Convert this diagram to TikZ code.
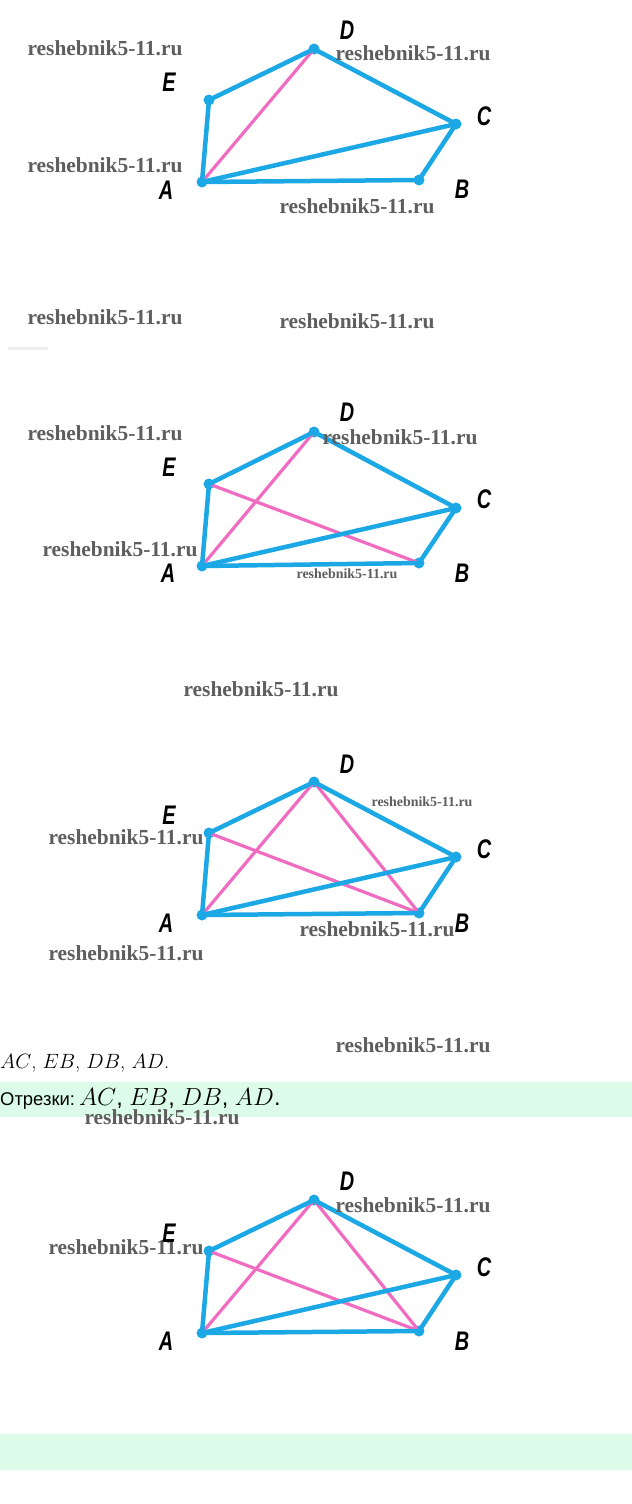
\documentclass[tikz,border=0pt]{standalone}
\usepackage{fontspec}
\newfontfamily\ptfont[FakeStretch=0.74]{Liberation Sans}
\newfontfamily\wmfont{Liberation Serif}
\newfontfamily\txtfont{Liberation Sans}
\definecolor{segblue}{HTML}{1BA8E4}
\definecolor{segpink}{HTML}{F06CC0}
\definecolor{bandgreen}{HTML}{DCFCE9}
\definecolor{wmgray}{HTML}{5E5E5E}
\begin{document}
\begin{tikzpicture}[line join=round,line cap=round,
  vertex/.style={circle, fill=segblue, inner sep=0pt, minimum size=11bp},
  side/.style={draw=segblue, line width=4.5bp},
  diag/.style={draw=segpink, line width=3.2bp},
  lbl/.style={inner sep=0pt, font=\fontsize{27}{27}\ptfont\bfseries\itshape},
  wm/.style={inner sep=0pt, text=wmgray, font=\fontsize{21.5}{21.5}\wmfont\bfseries},
  wmsmall/.style={wm, font=\fontsize{14}{14}\wmfont\bfseries},
  band/.style={fill=bandgreen, draw=none} ]
\useasboundingbox (0,0) rectangle (632bp,-1504bp);
\fill[white] (0,0) rectangle (632bp,-1504bp);
%% backgrounds
\path[band] (0bp,-1082bp) rectangle (632bp,-1117bp);
\path[band] (0bp,-1434bp) rectangle (632bp,-1470bp);
\fill[black!7] (8bp,-347bp) rectangle (48bp,-350bp);
%%
% Figure 1
  % Node: A B C D E
  \node (a1) [vertex] at (202bp,-182bp) {};
  \node (b1) [vertex] at (419bp,-180bp) {};
  \node (c1) [vertex] at (456bp,-124bp) {};
  \node (d1) [vertex] at (314bp,-49bp) {};
  \node (e1) [vertex] at (209bp,-100bp) {};
  % Edge: A -- D
  \draw [diag] (a1.center) -- (d1.center);
  % Edge: sides and AC
  \draw [side] (a1.center) -- (e1.center) -- (d1.center) -- (c1.center) -- (b1.center) -- (a1.center);
  \draw [side] (a1.center) -- (c1.center);
  \node (la1) [lbl] at (166bp,-190bp) {A};
  \node (lb1) [lbl] at (462bp,-189bp) {B};
  \node (lc1) [lbl] at (484bp,-116bp) {C};
  \node (ld1) [lbl] at (347bp,-30bp) {D};
  \node (le1) [lbl] at (169bp,-82bp) {E};
%
% Figure 2
  % Node: A B C D E
  \node (a2) [vertex] at (202bp,-566bp) {};
  \node (b2) [vertex] at (419bp,-563bp) {};
  \node (c2) [vertex] at (456bp,-508bp) {};
  \node (d2) [vertex] at (314bp,-432bp) {};
  \node (e2) [vertex] at (209bp,-484bp) {};
  % Edge: A -- D, E -- B
  \draw [diag] (a2.center) -- (d2.center);
  \draw [diag] (e2.center) -- (b2.center);
  % Edge: sides and AC
  \draw [side] (a2.center) -- (e2.center) -- (d2.center) -- (c2.center) -- (b2.center) -- (a2.center);
  \draw [side] (a2.center) -- (c2.center);
  \node (la2) [lbl] at (168bp,-573bp) {A};
  \node (lb2) [lbl] at (462bp,-573bp) {B};
  \node (lc2) [lbl] at (484bp,-499bp) {C};
  \node (ld2) [lbl] at (347bp,-412bp) {D};
  \node (le2) [lbl] at (169bp,-467bp) {E};
%
% Figure 3
  % Node: A B C D E
  \node (a3) [vertex] at (202bp,-915bp) {};
  \node (b3) [vertex] at (419bp,-913bp) {};
  \node (c3) [vertex] at (456bp,-857bp) {};
  \node (d3) [vertex] at (314bp,-782bp) {};
  \node (e3) [vertex] at (209bp,-833bp) {};
  % Edge: A -- D, E -- B, D -- B
  \draw [diag] (a3.center) -- (d3.center);
  \draw [diag] (e3.center) -- (b3.center);
  \draw [diag] (d3.center) -- (b3.center);
  % Edge: sides and AC
  \draw [side] (a3.center) -- (e3.center) -- (d3.center) -- (c3.center) -- (b3.center) -- (a3.center);
  \draw [side] (a3.center) -- (c3.center);
  \node (la3) [lbl] at (166bp,-923bp) {A};
  \node (lb3) [lbl] at (462bp,-923bp) {B};
  \node (lc3) [lbl] at (484bp,-849bp) {C};
  \node (ld3) [lbl] at (347bp,-764bp) {D};
  \node (le3) [lbl] at (169bp,-815bp) {E};
%
% Answer lines
  \node (ans1) [inner sep=0pt, anchor=west] at (0bp,-1063bp)
    {\fontsize{20.5}{21}\selectfont $AC$, $EB$, $DB$, $AD$.};
  \node (ans2) [inner sep=0pt, anchor=west] at (0bp,-1099bp)
    {\fontsize{18.5}{19}\txtfont Отрезки:\hspace{4bp}\fontsize{23.5}{24}\selectfont $AC$, $EB$, $DB$, $AD$.};
%
% Figure 4
  % Node: A B C D E
  \node (a4) [vertex] at (202bp,-1333bp) {};
  \node (b4) [vertex] at (419bp,-1331bp) {};
  \node (c4) [vertex] at (456bp,-1275bp) {};
  \node (d4) [vertex] at (314bp,-1200bp) {};
  \node (e4) [vertex] at (209bp,-1251bp) {};
  % Edge: A -- D, E -- B, D -- B
  \draw [diag] (a4.center) -- (d4.center);
  \draw [diag] (e4.center) -- (b4.center);
  \draw [diag] (d4.center) -- (b4.center);
  % Edge: sides and AC
  \draw [side] (a4.center) -- (e4.center) -- (d4.center) -- (c4.center) -- (b4.center) -- (a4.center);
  \draw [side] (a4.center) -- (c4.center);
  \node (la4) [lbl] at (166bp,-1341bp) {A};
  \node (lb4) [lbl] at (462bp,-1341bp) {B};
  \node (lc4) [lbl] at (484bp,-1267bp) {C};
  \node (ld4) [lbl] at (347bp,-1181bp) {D};
%
% Watermarks
  \node (w1) [wm] at (105bp,-48bp) {reshebnik5-11.ru};
  \node (w2) [wm] at (413bp,-53bp) {reshebnik5-11.ru};
  \node (w3) [wm] at (105bp,-165bp) {reshebnik5-11.ru};
  \node (w4) [wm] at (357bp,-206bp) {reshebnik5-11.ru};
  \node (w5) [wm] at (105bp,-317bp) {reshebnik5-11.ru};
  \node (w6) [wm] at (357bp,-321bp) {reshebnik5-11.ru};
  \node (w7) [wm] at (105bp,-433bp) {reshebnik5-11.ru};
  \node (w8) [wm] at (400bp,-437bp) {reshebnik5-11.ru};
  \node (w9) [wm] at (120bp,-549bp) {reshebnik5-11.ru};
  \node (w10) [wmsmall] at (347bp,-574bp) {reshebnik5-11.ru};
  \node (w11) [wm] at (261bp,-689bp) {reshebnik5-11.ru};
  \node (w12) [wmsmall] at (422bp,-802bp) {reshebnik5-11.ru};
  \node (w13) [wm] at (126bp,-837bp) {reshebnik5-11.ru};
  \node (w14) [wm] at (377bp,-929bp) {reshebnik5-11.ru};
  \node (w15) [wm] at (126bp,-953bp) {reshebnik5-11.ru};
  \node (w16) [wm] at (413bp,-1045bp) {reshebnik5-11.ru};
  \node (w17) [wm] at (162bp,-1117bp) {reshebnik5-11.ru};
  \node (w18) [wm] at (413bp,-1205bp) {reshebnik5-11.ru};
  \node (w19) [wm] at (126bp,-1247bp) {reshebnik5-11.ru};
  \node (le4) [lbl] at (169bp,-1233bp) {E};
%
\end{tikzpicture}
\end{document}
